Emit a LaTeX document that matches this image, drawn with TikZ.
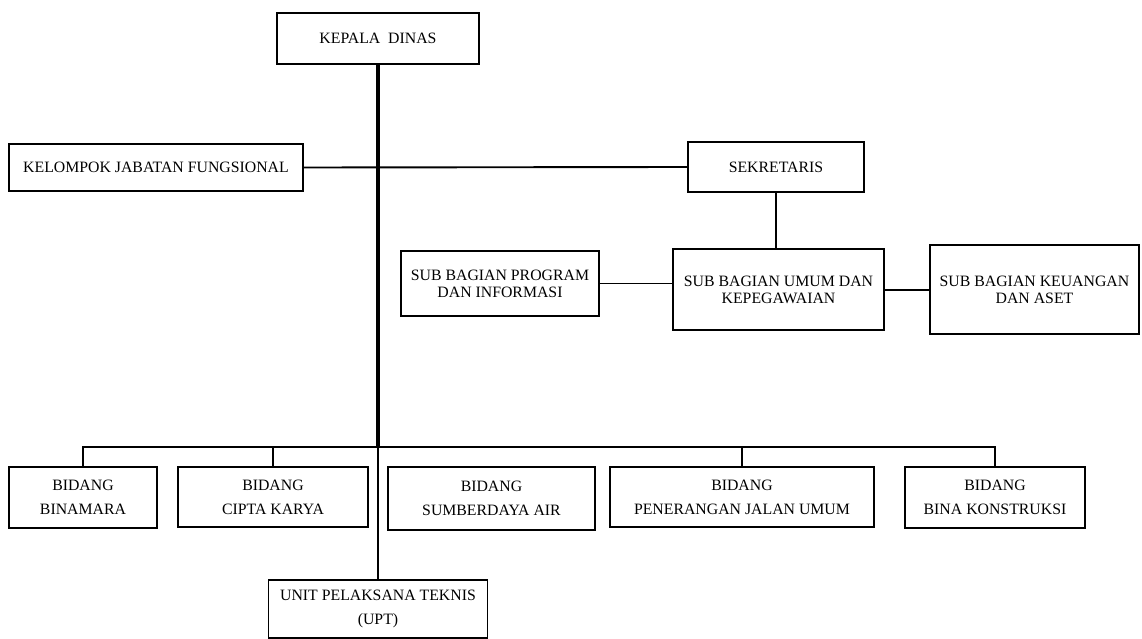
\documentclass[tikz,border=0pt]{standalone}
\usepackage{fontspec}
\setmainfont{Liberation Serif}
\begin{document}
\begin{tikzpicture}[x=1pt,y=-1pt,
  orgbox/.style={draw,line width=1.9pt,inner sep=0pt,align=center,font=\fontsize{15.8}{17}\selectfont},
  bidbox/.style={orgbox,font=\fontsize{15.8}{24}\selectfont},
  conn/.style={line width=1.9pt},
  mainline/.style={line width=3.4pt}]
\useasboundingbox (0,0) rectangle (1142,639);
\node[orgbox,minimum width=202pt,minimum height=51pt] (kepala) at (378,38.5) {KEPALA\ \ DINAS};
\node[orgbox,minimum width=294pt,minimum height=47pt] (kelompok) at (156,167.5) {KELOMPOK JABATAN FUNGSIONAL};
\node[orgbox,minimum width=176pt,minimum height=50pt] (sekretaris) at (776,167) {SEKRETARIS};
\node[orgbox,minimum width=198pt,minimum height=65pt] (program) at (500,283.5) {SUB BAGIAN PROGRAM\\DAN INFORMASI};
\node[orgbox,minimum width=211pt,minimum height=81pt] (umum) at (778.5,289.5) {SUB BAGIAN UMUM DAN\\KEPEGAWAIAN};
\node[orgbox,minimum width=209pt,minimum height=89pt] (keuangan) at (1034.5,289.5) {SUB BAGIAN KEUANGAN\\DAN ASET};
\node[bidbox,minimum width=148pt,minimum height=61pt] (binamara) at (83,497.5) {BIDANG\\BINAMARA};
\node[bidbox,minimum width=190pt,minimum height=60pt] (cipta) at (273,497) {BIDANG\\CIPTA KARYA};
\node[bidbox,minimum width=207pt,minimum height=63pt] (sumber) at (491.5,498.5) {BIDANG\\SUMBERDAYA AIR};
\node[bidbox,minimum width=264pt,minimum height=60pt] (penerangan) at (742,497) {BIDANG\\PENERANGAN JALAN UMUM};
\node[bidbox,minimum width=180pt,minimum height=61pt] (konstruksi) at (995,497.5) {BIDANG\\BINA KONSTRUKSI};
\node[bidbox,minimum width=219pt,minimum height=58pt] (upt) at (378,609) {UNIT PELAKSANA TEKNIS\\(UPT)};
\coordinate (busy) at (0,447);
% main vertical line
\draw[mainline] (kepala.south) -- (kepala.south |- busy);
\draw[conn] (kepala.south |- busy) -- (kepala.south |- upt.north);
% secretariat
\draw[conn] (kelompok.east) -- (sekretaris.west);
\draw[conn] (sekretaris.south) -- (sekretaris.south |- umum.north);
\draw[conn] (program.east) -- (program.east -| umum.west);
\draw[conn] (umum.east |- 0,290) -- (keuangan.west |- 0,290);
% bus
\draw[conn] (binamara.north) |- (konstruksi.north |- busy) -- (konstruksi.north);
\draw[conn] (cipta.north) -- (cipta.north |- busy);
\draw[conn] (penerangan.north) -- (penerangan.north |- busy);
\end{tikzpicture}
\end{document}
